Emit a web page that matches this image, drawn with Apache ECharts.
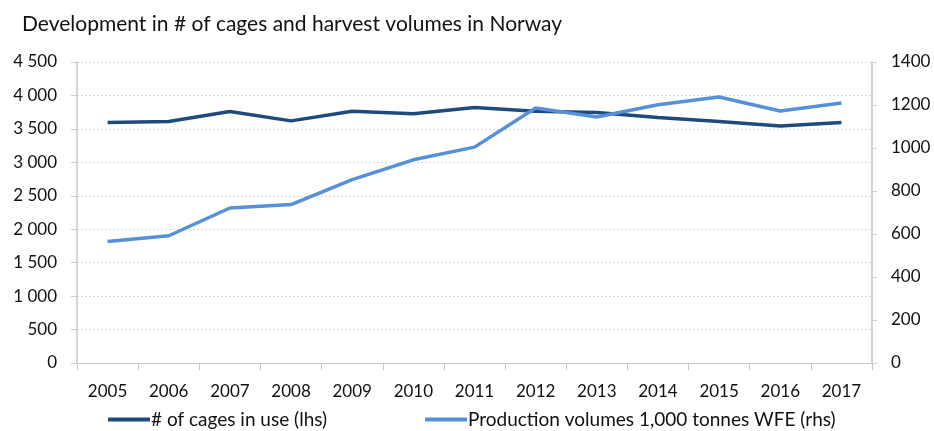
<!DOCTYPE html>
<html>
<head>
<meta charset="utf-8">
<script src="https://cdn.jsdelivr.net/npm/echarts@6/dist/echarts.min.js"></script>
<style>
html,body{margin:0;padding:0;background:#fff;}
#chart{width:934px;height:431px;}
</style>
</head>
<body>
<div id="chart"></div>
<script>
var years = ['2005','2006','2007','2008','2009','2010','2011','2012','2013','2014','2015','2016','2017'];
var cages = [3595, 3610, 3760, 3620, 3765, 3725, 3820, 3765, 3745, 3670, 3610, 3543, 3597];
var production = [565, 592, 721, 737, 853, 945, 1004, 1186, 1144, 1201, 1237, 1172, 1209];
var leftTicks = { min: 0, max: 4500, step: 500 };
var rightTicks = { min: 0, max: 1400, step: 200 };
var seriesNames = ['# of cages in use (lhs)', 'Production volumes 1,000 tonnes WFE (rhs)'];
var titleText = 'Development in # of cages and harvest volumes in Norway';

var FONT = 'Lato';
var TXT = '#111111';
var chart = echarts.init(document.getElementById('chart'), null, {renderer: 'canvas'});
function spaceThousands(v){
  return String(v).replace(/\B(?=(\d{3})+(?!\d))/g, ' ');
}
chart.setOption({
  animation: false,
  backgroundColor: '#ffffff',
  title: {
    text: titleText,
    left: 22, top: 14, padding: 0,
    textStyle: {fontFamily: FONT, fontSize: 21, fontWeight: 'normal', color: TXT}
  },
  legend: [{
    data: [seriesNames[0]],
    left: 108, top: 410, padding: 0, itemGap: 0,
    icon: 'rect', itemWidth: 42, itemHeight: 4,
    textStyle: {fontFamily: FONT, fontSize: 19, color: TXT, padding: [0,0,0,-4]}
  },{
    data: [seriesNames[1]],
    left: 425, top: 410, padding: 0, itemGap: 0,
    icon: 'rect', itemWidth: 42, itemHeight: 4,
    textStyle: {fontFamily: FONT, fontSize: 19, color: TXT, padding: [0,0,0,-4]}
  }],
  grid: {left: 77, right: 62, top: 62, bottom: 68, containLabel: false},
  xAxis: {
    type: 'category',
    data: years,
    boundaryGap: true,
    axisLine: {show: true, lineStyle: {color: '#c8c8c8', width: 1}},
    axisTick: {show: true, length: 7, lineStyle: {color: '#c8c8c8'}},
    axisLabel: {fontFamily: FONT, fontSize: 17, color: TXT, margin: 20},
    splitLine: {show: false}
  },
  yAxis: [{
    type: 'value',
    min: leftTicks.min, max: leftTicks.max, interval: leftTicks.step,
    axisLine: {show: true, lineStyle: {color: '#c8c8c8', width: 1.5}},
    axisTick: {show: true, length: 6, lineStyle: {color: '#d0d0d0'}},
    axisLabel: {fontFamily: FONT, fontSize: 17, color: TXT, margin: 20, formatter: spaceThousands},
    splitLine: {show: true, lineStyle: {color: '#d9d9d9', type: [2, 2], width: 1}}
  },{
    type: 'value',
    position: 'right',
    min: rightTicks.min, max: rightTicks.max, interval: rightTicks.step,
    axisLine: {show: true, lineStyle: {color: '#c8c8c8', width: 1.5}},
    axisTick: {show: true, length: 5, lineStyle: {color: '#d0d0d0'}},
    axisLabel: {fontFamily: FONT, fontSize: 17, color: TXT, margin: 19, formatter: function(v){ return String(v); }},
    splitLine: {show: false}
  }],
  series: [{
    name: seriesNames[0],
    type: 'line',
    yAxisIndex: 0,
    data: cages,
    symbol: 'none',
    color: '#1f4a7c',
    lineStyle: {width: 3.5, color: '#1f4a7c'}
  },{
    name: seriesNames[1],
    type: 'line',
    yAxisIndex: 1,
    data: production,
    symbol: 'none',
    color: '#5590d8',
    lineStyle: {width: 3.5, color: '#5590d8'}
  }]
});
</script>
</body>
</html>
